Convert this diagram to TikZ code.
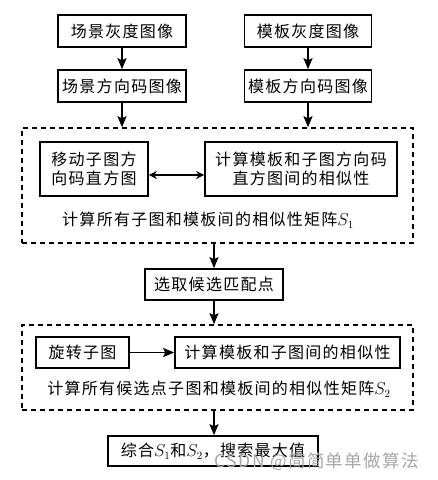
\documentclass[tikz,border=0pt]{standalone}
\usepackage{fontspec}
\setmainfont{Noto Sans CJK SC}[LetterSpace=8]
\usetikzlibrary{calc, positioning, arrows.meta}
\usepackage{amsmath}

\begin{document}
\begin{tikzpicture}[x=1pt,y=-1pt,
  box/.style={draw, line width=1.6pt, inner sep=0pt, align=center, font=\fontsize{16}{19}\selectfont},
  grp/.style={draw, line width=1.5pt, dash pattern=on 5pt off 4pt, inner sep=0pt},
  lbl/.style={font=\fontsize{16}{19}\selectfont},
  flow/.style={line width=1.8pt, -{Stealth[length=11pt,width=9pt,inset=2pt]}}]
\useasboundingbox (0,0) rectangle (438,480);
\node[box, minimum width=128pt, minimum height=32pt] (sgray) at (122,31) {场景灰度图像};
\node[box, minimum width=127pt, minimum height=32pt] (tgray) at (308,31) {模板灰度图像};
\node[box, minimum width=128pt, minimum height=32pt] (sdir) at (122,86) {场景方向码图像};
\node[box, minimum width=127pt, minimum height=32pt] (tdir) at (308,86) {模板方向码图像};
\node[grp, minimum width=391pt, minimum height=115pt] (grpa) at (217.5,185.5) {};
\node[box, minimum width=108pt, minimum height=54pt] (hist) at (94,169) {移动子图方\\向码直方图};
\node[box, minimum width=192pt, minimum height=54pt] (sima) at (301,169) {计算模板和子图方向码\\直方图间的相似性};
\node[lbl] (lbla) at (208,220) {计算所有子图和模板间的相似性矩阵$S_{1}$};
\node[box, minimum width=138pt, minimum height=31pt] (cand) at (214,284.5) {选取候选匹配点};
\node[grp, minimum width=391pt, minimum height=85pt] (grpb) at (217.5,367.5) {};
\node[box, minimum width=93pt, minimum height=31pt] (rot) at (82.5,352.5) {旋转子图};
\node[box, minimum width=225pt, minimum height=31pt] (simb) at (287.5,352.5) {计算模板和子图间的相似性};
\node[lbl] (lblb) at (219,389) {计算所有候选点子图和模板间的相似性矩阵$S_{2}$};
\node[box, minimum width=210pt, minimum height=30pt] (fin) at (213,451) {综合$S_{1}$和$S_{2}$，搜索最大值};
\node[text=black!35, font=\fontsize{17.5}{20}\selectfont] (mark) at (317,462) {CSDN @简简单单做算法};
\draw[flow] (sgray) to (sdir);
\draw[flow] (tgray) to (tdir);
\draw[flow] (sdir) to (sdir |- grpa.north);
\draw[flow] (tdir) to (tdir |- grpa.north);
\draw[line width=1.3pt, {Stealth[length=8pt,width=8pt]}-{Stealth[length=8pt,width=8pt]}] ([yshift=-6pt]hist.east) to ([yshift=-6pt]hist.east -| sima.west);
\draw[flow] (grpa.south -| cand) to (cand);
\draw[flow] (cand) to (cand |- grpb.north);
\draw[flow] (rot) to (simb);
\draw[flow] (grpb.south -| cand) to (cand |- fin.north);
\end{tikzpicture}
\end{document}
